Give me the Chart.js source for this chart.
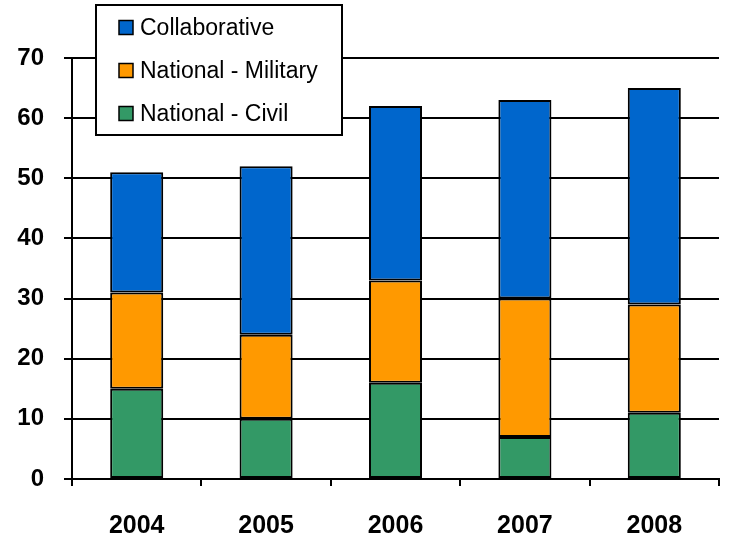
<!DOCTYPE html>
<html>
<head>
<meta charset="utf-8">
<script src="https://cdn.jsdelivr.net/npm/chart.js@4"></script>
<style>
  html, body { margin: 0; padding: 0; background: #fff; }
  #wrap { width: 731px; height: 548px; }
</style>
</head>
<body>
<div id="wrap"><canvas id="grafica"></canvas></div>
<script>
// datos
const years = ['2004', '2005', '2006', '2007', '2008'];
const civil = [15, 10, 16, 7, 11];
const military = [16, 14, 17, 23, 18];
const collaborative = [20, 28, 29, 33, 36];
const yTicks = [0, 10, 20, 30, 40, 50, 60, 70];

const fontFamily = '"Liberation Sans", Arial, sans-serif';

// leyenda flotante dibujada encima del grafico
const boxLegend = {
  id: 'boxLegend',
  afterDraw(chart) {
    const ctx = chart.ctx;
    const items = chart.data.datasets.slice().reverse();
    ctx.save();
    ctx.fillStyle = '#fff';
    ctx.strokeStyle = '#000';
    ctx.lineWidth = 2;
    ctx.fillRect(96, 5, 246, 130);
    ctx.strokeRect(96, 5, 246, 130);
    ctx.font = '23px ' + fontFamily;
    ctx.textBaseline = 'middle';
    items.forEach((ds, i) => {
      const cy = 27.5 + i * 43;
      ctx.fillStyle = ds.backgroundColor;
      ctx.fillRect(119, cy - 7, 14, 14);
      ctx.lineWidth = 1.5;
      ctx.strokeRect(119, cy - 7, 14, 14);
      ctx.fillStyle = '#000';
      ctx.fillText(ds.label, 140, cy + 1);
    });
    ctx.restore();
  }
};

const ctx = document.getElementById('grafica').getContext('2d');
new Chart(ctx, {
  type: 'bar',
  data: {
    labels: years,
    datasets: [
      { label: 'National - Civil', data: civil, backgroundColor: '#339966' },
      { label: 'National - Military', data: military, backgroundColor: '#FF9900' },
      { label: 'Collaborative', data: collaborative, backgroundColor: '#0066CC' }
    ].map(d => Object.assign(d, {
      borderColor: '#000',
      borderWidth: 2,
      borderSkipped: false,
      categoryPercentage: 1,
      barPercentage: 0.41
    }))
  },
  options: {
    responsive: true,
    maintainAspectRatio: false,
    animation: false,
    layout: { padding: { top: 58, right: 12, left: 0, bottom: 0 } },
    plugins: {
      legend: { display: false },
      tooltip: { enabled: false }
    },
    scales: {
      x: {
        stacked: true,
        afterFit: s => { s.height = 69; },
        grid: {
          offset: true,
          drawOnChartArea: false,
          color: '#000',
          lineWidth: 2,
          tickLength: 7
        },
        border: { color: '#000', width: 2 },
        ticks: {
          color: '#000',
          padding: 25,
          font: { family: fontFamily, size: 25, weight: 'bold' }
        }
      },
      y: {
        stacked: true,
        min: 0,
        max: 70,
        afterFit: s => { s.width = 72; },
        afterBuildTicks: s => { s.ticks = yTicks.map(v => ({ value: v })); },
        grid: {
          color: '#000',
          lineWidth: 2,
          tickLength: 8
        },
        border: { color: '#000', width: 2 },
        ticks: {
          color: '#000',
          padding: 20,
          font: { family: fontFamily, size: 24, weight: 'bold' }
        }
      }
    }
  },
  plugins: [boxLegend]
});
</script>
</body>
</html>
